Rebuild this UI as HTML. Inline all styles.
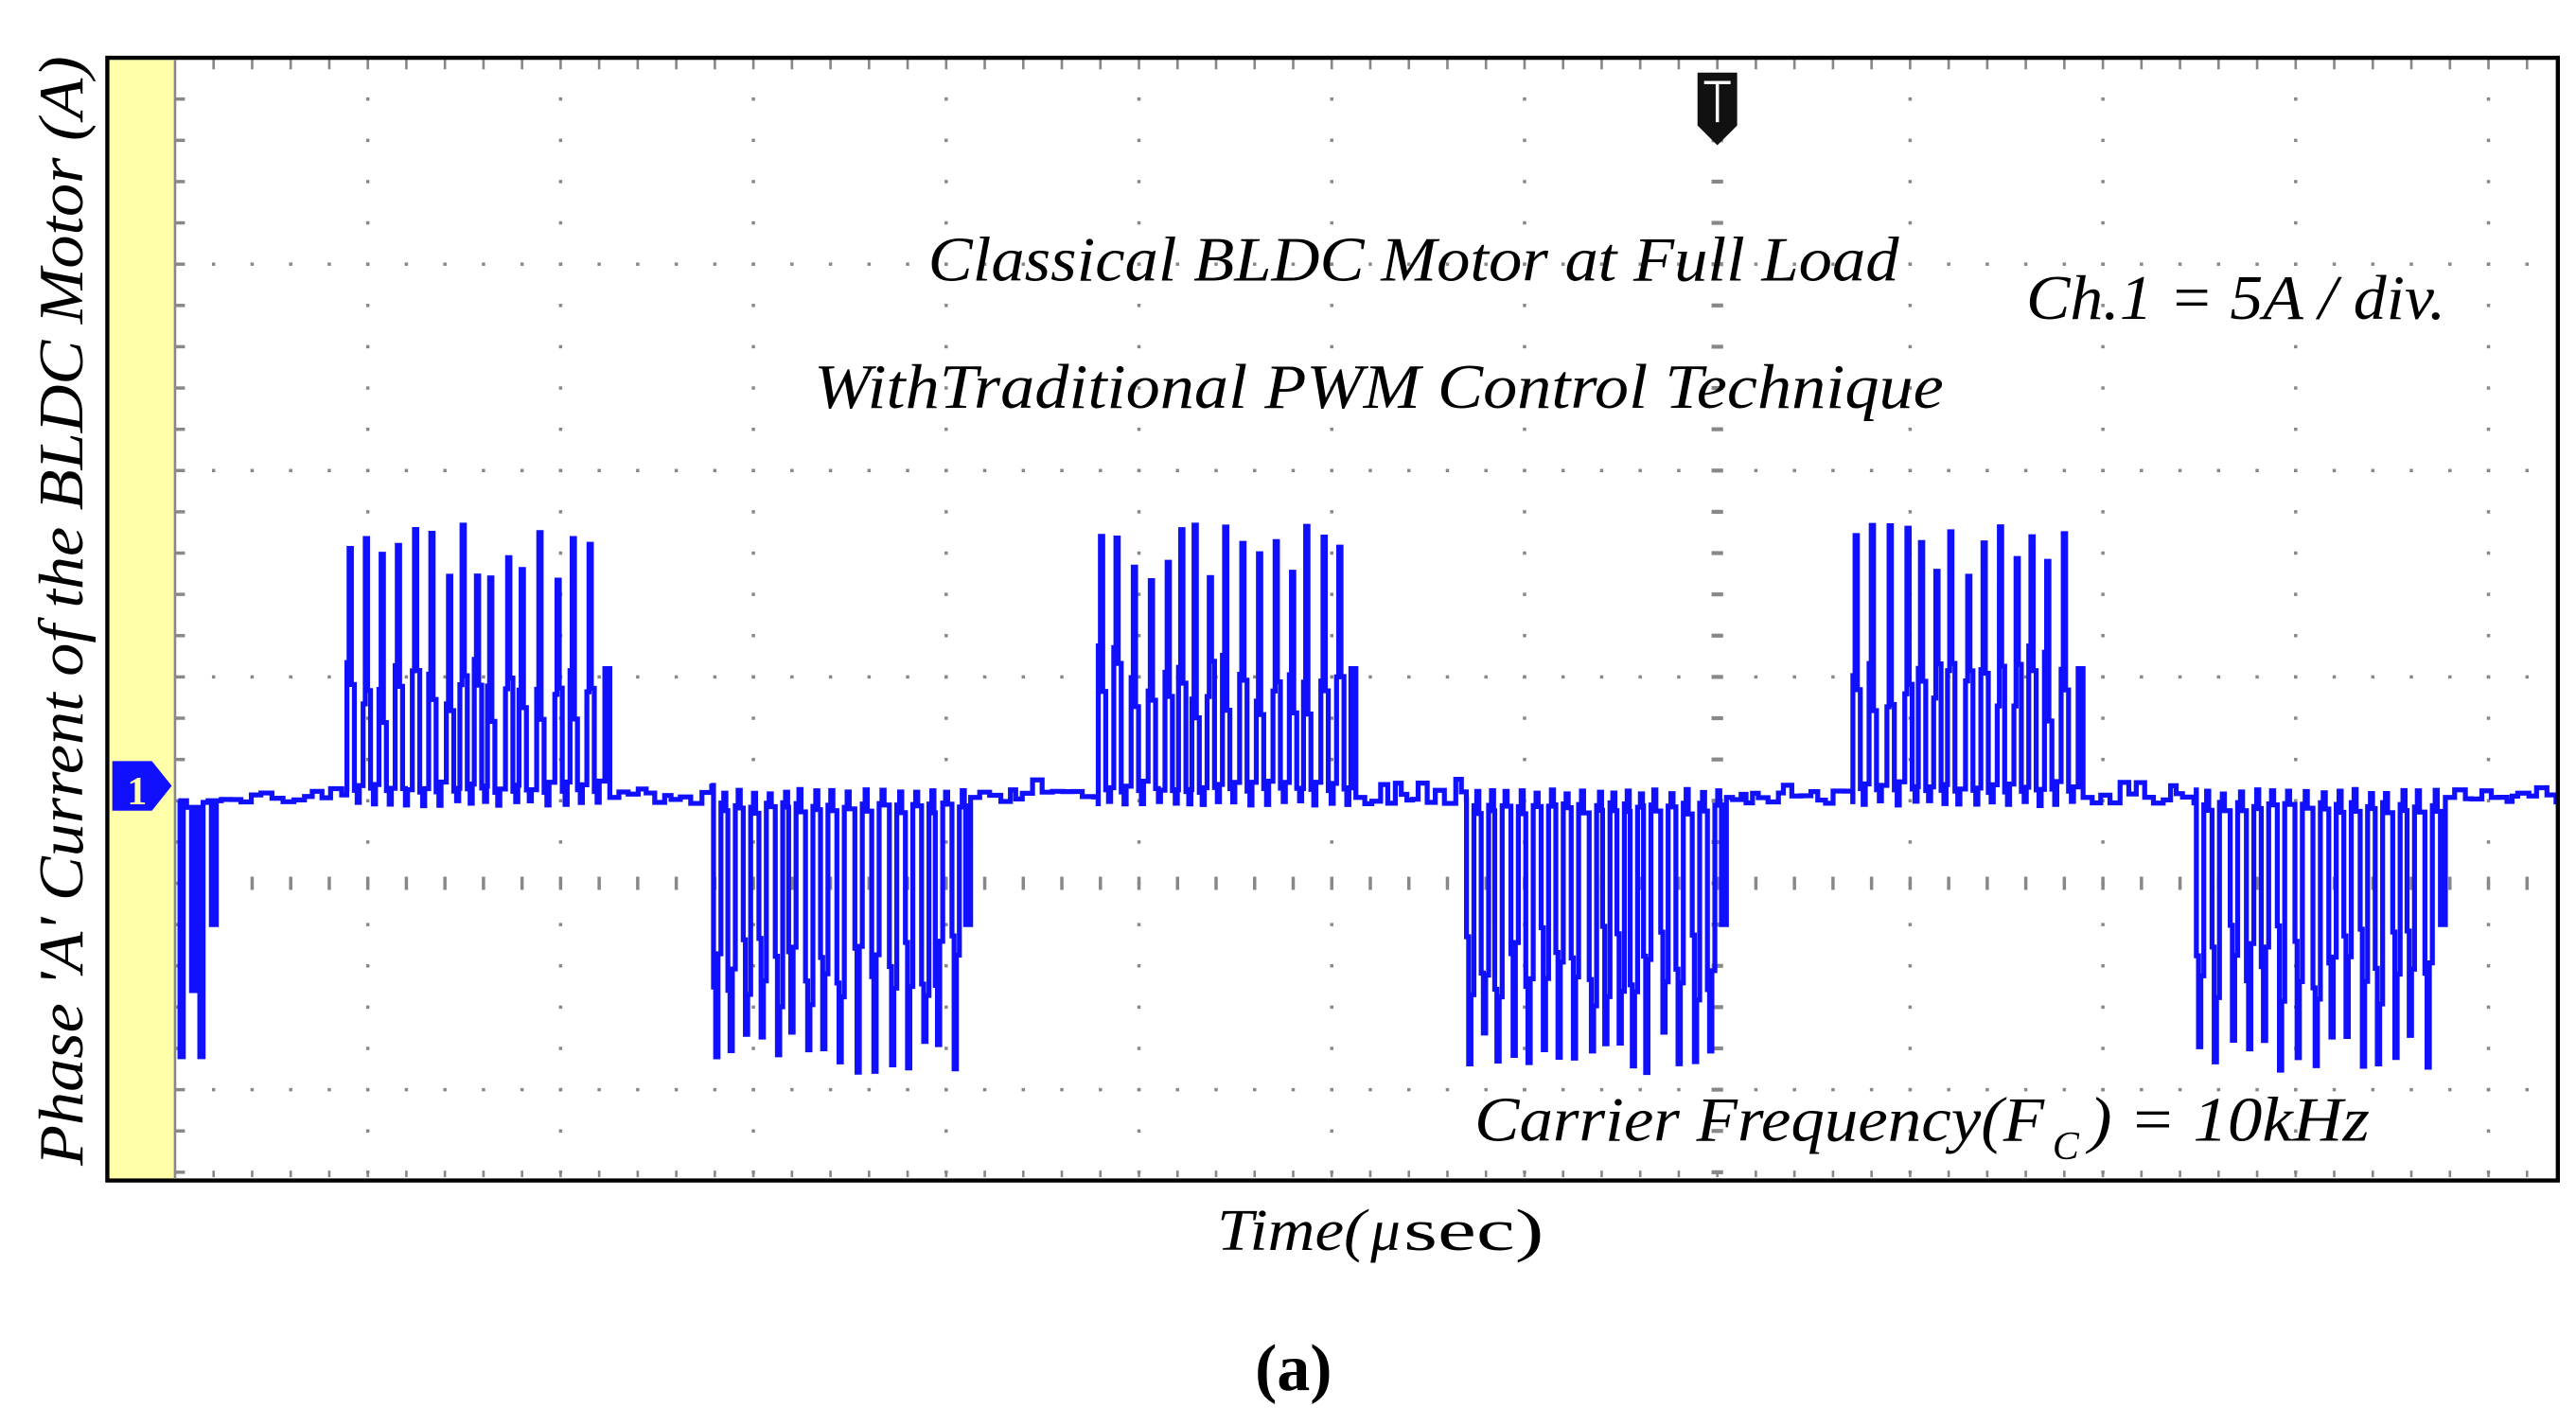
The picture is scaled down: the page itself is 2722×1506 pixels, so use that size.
<!DOCTYPE html>
<html><head><meta charset="utf-8">
<style>
html,body{margin:0;padding:0;background:#fff;}
svg{display:block;}
text{font-family:"Liberation Serif","Times New Roman",serif;}
</style></head>
<body>
<svg id="s" width="2722" height="1506" viewBox="0 0 1560 863.1" preserveAspectRatio="none" xmlns="http://www.w3.org/2000/svg">
<rect x="0" y="0" width="1560" height="863.1" fill="#fff"/>
<rect x="65" y="35" width="41" height="680" fill="#ffffaa"/>
<g id="grid"></g>
<path id="wave" d="" fill="none" stroke="#1010ff" stroke-width="3" stroke-linejoin="miter"/>
<rect x="65" y="35" width="1484" height="680" fill="none" stroke="#000" stroke-width="2.5"/>
<line x1="106" y1="36" x2="106" y2="714" stroke="#888" stroke-width="1.5"/>
<polygon points="68,461 92,461 104,476 92,491 68,491" fill="#1010ff"/>
<text x="77" y="487" font-size="24" font-weight="bold" fill="#ffffaa" style="font-family:'Liberation Serif',serif">1</text>
<polygon points="1028,44 1052,44 1052,76 1040,88 1028,76" fill="#111"/>
<line x1="1032" y1="50" x2="1048" y2="50" stroke="#fff" stroke-width="2"/>
<line x1="1040" y1="50" x2="1040" y2="74" stroke="#fff" stroke-width="2"/>
<g font-style="italic" fill="#000">
<text x="562" y="170" font-size="38" textLength="588" lengthAdjust="spacingAndGlyphs">Classical BLDC Motor at Full Load</text>
<text x="493" y="247" font-size="38" textLength="684" lengthAdjust="spacingAndGlyphs">WithTraditional PWM Control Technique</text>
<text x="1227" y="193" font-size="38" textLength="254" lengthAdjust="spacingAndGlyphs">Ch.1 = 5A / div.</text>
<text x="893" y="691" font-size="38" textLength="345" lengthAdjust="spacingAndGlyphs">Carrier Frequency(F</text>
<text x="1243" y="702" font-size="24">C</text>
<text x="1265" y="691" font-size="38" textLength="170" lengthAdjust="spacingAndGlyphs">) = 10kHz</text>
<text x="737" y="757" font-size="36" textLength="90" lengthAdjust="spacingAndGlyphs">Time(</text>
<text x="830" y="757" font-size="36">μ</text>
<text x="850" y="757" font-size="36" font-style="normal" textLength="85" lengthAdjust="spacingAndGlyphs">sec)</text>
<text x="0" y="0" font-size="38" transform="translate(50,706) rotate(-90)" textLength="672" lengthAdjust="spacingAndGlyphs">Phase 'A' Current of the BLDC Motor (A)</text>
</g>
<text x="760" y="842" font-size="40" font-weight="bold" fill="#000">(a)</text>
</svg>
<script>
(function(){
var g=document.getElementById('grid');
var h='';
var x0=106,dx=116.75,y0=35,dy=125;
function dot(x,y,w,hh){h+='<rect x="'+(x-w/2)+'" y="'+(y-hh/2)+'" width="'+w+'" height="'+hh+'" fill="#888"/>';}
for(var c=1;c<=12;c++){var x=x0+c*dx;for(var y=y0+25;y<715;y+=25){dot(x,y,c==8?4:2,2);}}
for(var r=0;r<=5;r++){var y=y0+r*dy;for(var x=x0+dx/5;x<1549;x+=dx/5){if(r==4)dot(x,y,2,8);else dot(x,y,2,2);}}
for(var x=x0+dx/5;x<1549;x+=dx/5){dot(x,39,1.5,6);dot(x,711,1.5,4);}
for(var y=y0+25;y<715;y+=25){dot(109,y,6,2);}
for(var y=y0+25;y<715;y+=25){dot(1040,y,7,2.4);}
g.innerHTML=h;
var seed=7;function rnd(){seed=(seed*16807)%2147483647;return seed/2147483647;}
var B=483;
var d='M108 '+(B+2);
var x=108;
function L(nx,ny){d+=' H'+nx.toFixed(1)+' V'+ny.toFixed(1);}
L(109,640);L(111,B+2);L(113,B+6);L(116,600);L(119,B+6);L(121,640);L(123,B+3);L(126,B+2);L(128,560);L(131,B+2);
x=131;
var bursts=[[210,362,1],[432,585,-1],[665,820,1],[888,1040,-1],[1122,1262,1],[1330,1482,-1]];
function noise(to){
  while(x<to){var nx=Math.min(to,x+3+rnd()*4);var v=B+(rnd()<0.5?-1:1)*(rnd()*4)+ (rnd()<0.2?-7:0);L(nx,v);x=nx;}
}
for(var i=0;i<bursts.length;i++){
  var b=bursts[i];noise(b[0]);
  var s=b[2];
  while(x<b[1]-6){
    var pk=s>0? (318+rnd()*35):(625+rnd()*25);
    var m1=s>0? (390+rnd()*40):(560+rnd()*40);
    var m2=s>0? (400+rnd()*40):(570+rnd()*40);
    L(x+0.1,m1);L(x+1.4,pk);L(x+2.8,m2);L(x+4.6,B-s*(3+rnd()*3));L(x+6.3,B+s*(2+rnd()*3));
    L(x+7.6,s>0?(B-4-rnd()*6):(B+4+rnd()*6));
    x=x+8+rnd()*3;
  }
  L(x,s>0?(405):(560));L(x+3,B);x+=3;
}
noise(1548);
document.getElementById('wave').setAttribute('d',d);
})();
</script>
</body></html>
